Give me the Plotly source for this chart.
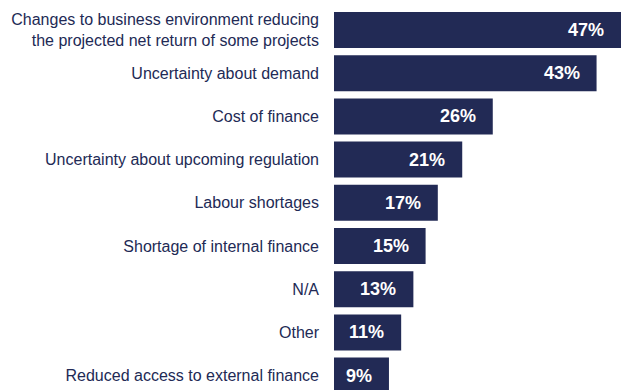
import plotly.graph_objects as go

# Reasons cited, top to bottom, with share of respondents (%)
categories = [
    "Changes to business environment reducing<br>the projected net return of some projects",
    "Uncertainty about demand",
    "Cost of finance",
    "Uncertainty about upcoming regulation",
    "Labour shortages",
    "Shortage of internal finance",
    "N/A",
    "Other",
    "Reduced access to external finance",
]
shares = [47, 43, 26, 21, 17, 15, 13, 11, 9]
value_labels = [f"{v}%" for v in shares]

NAVY = "#222A55"

fig = go.Figure(
    go.Bar(
        x=shares,
        y=categories,
        orientation="h",
        marker=dict(color=NAVY, line=dict(width=0)),
        hoverinfo="skip",
    )
)

# value labels sit inside each bar, near its end
for cat, val, lab in zip(categories, shares, value_labels):
    fig.add_annotation(
        x=val, y=cat, text=f"<b>{lab}</b>",
        xanchor="right", yanchor="middle", xshift=-15,
        showarrow=False,
        font=dict(family="Liberation Sans, Arial, sans-serif", size=18, color="white"),
    )

fig.update_layout(
    width=621, height=390,
    margin=dict(l=334, r=0, t=0, b=0),
    paper_bgcolor="white", plot_bgcolor="white",
    bargap=0.167,
    showlegend=False,
    font=dict(family="Liberation Sans, Arial, sans-serif", size=16, color=NAVY),
    xaxis=dict(range=[0, 47], visible=False, fixedrange=True),
    yaxis=dict(
        range=[8.333, -0.694],
        showgrid=False, zeroline=False, showline=False,
        ticks="", ticklabelstandoff=14,
        tickfont=dict(size=16, color=NAVY),
        fixedrange=True,
    ),
)

fig.write_html("out.html", config=dict(displayModeBar=False))
